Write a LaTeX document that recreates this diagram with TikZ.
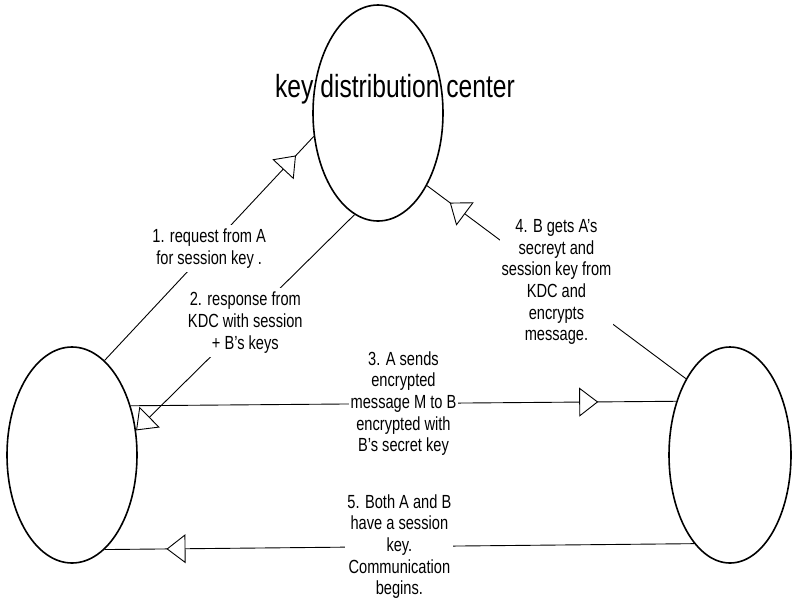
\documentclass[tikz,border=0pt]{standalone}
\usepackage{fontspec}
\setmainfont{Liberation Sans}[FakeStretch=0.77]
\usetikzlibrary{shapes.geometric, arrows.meta, decorations.markings}

\begin{document}
\begin{tikzpicture}[
    x=1pt, y=-1pt,
    party/.style={ellipse, draw, line width=1.6pt, minimum width=130pt, minimum height=216pt, inner sep=0pt},
    link/.style={line width=0.9pt},
    note/.style={fill=white, align=center, inner xsep=2pt, inner ysep=4pt, font=\fontsize{19}{21.7}\selectfont},
    kdchead/.tip={Triangle[fill=white, length=19pt, width=29pt]},
    headat/.style={postaction={decorate, decoration={markings, mark=at position #1 with {\arrow{kdchead}}}}}
]
\useasboundingbox (0,0) rectangle (792,603);

% Parties
\node[party] (kdc) at (378,113) {};
\node[party] (userA) at (72,455) {};
\node[party, minimum width=122pt] (userB) at (730,455) {};

% Title over the server
\node[font=\fontsize{32}{36}\selectfont, anchor=base] (title) at (395,97) {key distribution center};

% Messages
\draw[link, headat=0.915] (userA.71.9) -- node[note] {1. request from A\\for session key .} (kdc.200.9);
\draw[link, -{kdchead}] (kdc.257.4) -- node[note] {2. response from\\KDC with session\\+ B's keys} (userA.21);
\draw[link, headat=0.857] (userA.40.8) -- node[note] {3. A sends\\encrypted\\message M to B\\encrypted with\\B's secret key} (userB.135.5);
\draw[link, headat=0.912] (userB.120.5) -- node[note] {4. B gets A's\\secreyt and\\session key from\\KDC and\\encrypts\\message.} (kdc.304.2);
\draw[link, headat=0.895] (userB.248.7) -- node[note] {5. Both A and B\\have a session\\key.\\Communication\\begins.} (userA.-71.7);
\end{tikzpicture}
\end{document}
